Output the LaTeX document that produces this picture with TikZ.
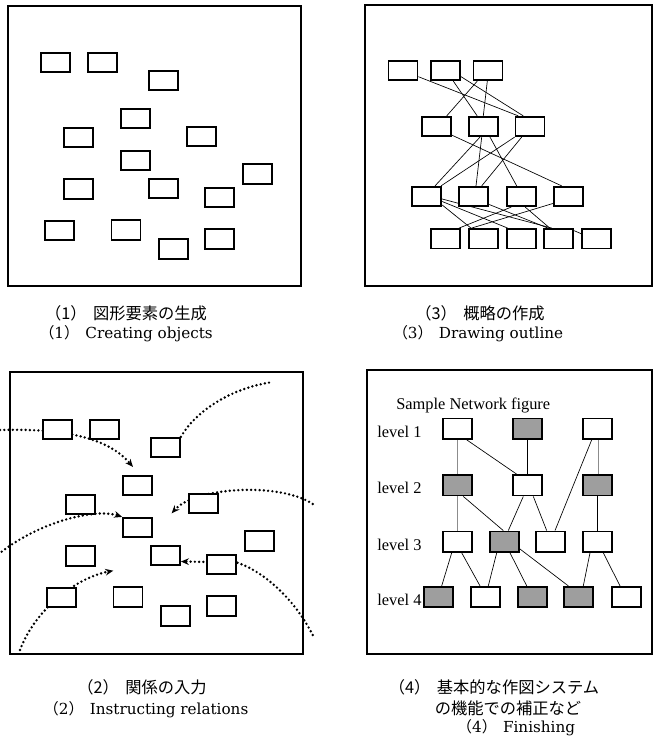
\documentclass[tikz,border=0pt]{standalone}
\usepackage{fontspec}
\newfontfamily\cjk{Noto Sans CJK JP}
\newfontfamily\timesf{Liberation Serif}
\newfontfamily\capserif{DejaVu Serif}
\usetikzlibrary{calc,arrows.meta}
\pgfdeclarelayer{bg}
\pgfdeclarelayer{paper}
\pgfsetlayers{paper,bg,main}

\begin{document}
\begin{tikzpicture}[x=0.75pt,y=-0.75pt,
  frame/.style={draw, line width=1.1pt},
  obj/.style={draw, fill=white, line width=1.3pt, minimum width=21.75pt,
              minimum height=14.6pt, inner sep=0pt},
  netbox/.style={obj, minimum height=15.4pt},
  shaded/.style={netbox, fill=black!38},
  conn/.style={line width=0.5pt},
  faint/.style={line width=0.45pt, draw=black!45},
  rel/.style={line width=2pt, line cap=round, dash pattern=on 0pt off 3.2pt},
  relarrow/.style={rel, -{Stealth[length=6pt,width=5pt]}},
  captext/.style={font=\cjk\fontsize{12.2pt}{14pt}\selectfont, inner sep=0pt},
  captexten/.style={font=\capserif\fontsize{11.4pt}{13pt}\selectfont, inner sep=0pt},
  lab/.style={font=\timesf\fontsize{12.3pt}{14pt}\selectfont, inner sep=0pt, anchor=west}]

\begin{pgfonlayer}{paper}
  \fill[white] (0,0) rectangle (653,738);
\end{pgfonlayer}
\useasboundingbox (0,0) rectangle (653,738);

% ---------- (1) scattered objects ----------
\draw[frame] (8,6) rectangle (301,286);
\foreach \n/\x/\y in {1/55.5/62.5, 2/102.5/62.5, 3/163.5/80.5, 4/135.5/118.5,
    5/78.5/137.5, 6/201.5/136.5, 7/135.5/160.5, 8/257.5/174, 9/78.5/189,
    10/163.5/188.5, 11/219.5/197.5, 12/59.5/230.5, 13/126/230, 14/173.5/249,
    15/219.5/239}
  \node[obj] (p\n) at (\x,\y) {};

% ---------- (2) same objects with relations ----------
\draw[frame] (10,372) rectangle (303,654);
\foreach \n/\x/\y in {1/55.5/62.5, 2/102.5/62.5, 3/163.5/80.5, 4/135.5/118.5,
    5/78.5/137.5, 6/201.5/136.5, 7/135.5/160.5, 8/257.5/174, 9/78.5/189,
    10/163.5/188.5, 11/219.5/197.5, 12/59.5/230.5, 13/126/230, 14/173.5/249,
    15/219.5/239}
  \node[obj] (q\n) at (\x+2,\y+367) {};

\coordinate (ra0) at (0,430);     \coordinate (ra1) at (133,467);
\coordinate (rb1) at (273,382);
\coordinate (rc0) at (312.7,504); \coordinate (rc1) at (171.7,513.3);
\coordinate (rd0) at (1.7,551.7);
\coordinate (re0) at (312.7,635);
\coordinate (rf0) at (20,650);    \coordinate (rf1) at (113.3,570.7);

\begin{pgfonlayer}{bg}
  \draw[relarrow] (ra0) .. controls (70,428) and (110,440) .. (ra1);
  \draw[rel] (q3.north east) .. controls (195,412) and (230,388) .. (rb1);
  \draw[relarrow] (rc0) .. controls (280,482) and (195,487) .. (rc1);
  \draw[relarrow] (rd0) .. controls (40,522) and (95,508) .. (q7.north west);
  \draw[relarrow] (re0) .. controls (295,600) and (265,572) .. ($(q11.east)+(0,-2)$)
        -- ($(q10.east)+(0,6)$);
  \draw[relarrow] (rf0) .. controls (35,610) and (75,578) .. (rf1);
\end{pgfonlayer}

% ---------- (3) outline of the layered network ----------
\draw[frame] (365,5) rectangle (652,286);
\foreach \n/\x/\y in {A1/403/70.5, A2/445.7/70.5, A3/488/70.5,
    B1/436.2/126.5, B2/483.2/126.5, B3/530/126.5,
    C1/426.8/196.5, C2/473.8/196.5, C3/521.2/196.5, C4/568.2/196.5,
    D1/445.5/238.7, D2/483.5/238.7, D3/521.2/238.7, D4/558.8/238.7, D5/596.5/238.7}
  \node[obj] (\n) at (\x,\y) {};

\begin{pgfonlayer}{bg}
  \draw[conn] ($(A1.east)+(0,6.2)$)   -- ($(B3.north)+(-11.7,0)$);
  \draw[conn] ($(A2.south)+(7.6,0)$)  -- ($(B2.north)+(-6,0)$);
  \draw[conn] ($(A2.east)+(0,6.2)$)   -- ($(B3.north)+(-6.7,0)$);
  \draw[conn] ($(A3.south)+(-10.7,0)$) -- ($(B1.north)+(10.5,0)$);
  \draw[conn] ($(A3.south)+(-0.7,0)$) -- ($(B2.north)+(0.1,0)$);
  \draw[conn] ($(B1.east)+(0,8.5)$)   -- ($(C4.north)+(-6.5,0)$);
  \draw[conn] ($(B2.south)+(-3.2,0)$) -- ($(C1.north)+(8.2,0)$);
  \draw[conn] ($(B2.south)+(-1.5,0)$) -- ($(C2.north)+(2.2,0)$);
  \draw[conn] ($(B2.south)+(6.8,0)$)  -- ($(C3.north)+(-4.5,0)$);
  \draw[conn] (B3.south west)         -- ($(C1.north)+(14.2,0)$);
  \draw[conn] ($(B3.south)+(-8.3,0)$) -- ($(C2.north)+(7.9,0)$);
  \draw[conn] ($(C1.east)+(0,8.5)$)   -- ($(D2.north)+(-12.5,0)$);
  \draw[conn] ($(C1.east)+(0,5)$)     -- ($(D3.north)+(-13.5,0)$);
  \draw[conn] ($(C1.east)+(0,2.5)$)   -- ($(D4.north)+(-7,0)$);
  \draw[conn] ($(C2.east)+(0,8)$)     -- ($(D4.north)+(-10.8,0)$);
  \draw[conn] ($(C3.south)+(4,0)$)    -- ($(D4.north)+(-9,0)$);
  \draw[conn] ($(C3.south)+(-10,0)$)  -- ($(D1.north)+(13.5,0)$);
  \draw[conn] ($(C4.west)+(0,7)$)     -- ($(D2.north)+(-12,0)$);
  \draw[conn] ($(D4.east)+(0,-8)$)    -- ($(D5.west)+(0,-5)$);
\end{pgfonlayer}

% ---------- (4) finished network ----------
\draw[frame] (367,370) rectangle (652,654);
\node[lab] (title) at (396,405) {Sample Network figure};
\node[lab] (lv1) at (377,431.7) {level 1};
\node[lab] (lv2) at (377,488.3) {level 2};
\node[lab] (lv3) at (377,545) {level 3};
\node[lab] (lv4) at (377,600) {level 4};

\node[netbox] (N1a) at (457.2,428.7) {};
\node[shaded] (N1b) at (527.5,428.7) {};
\node[netbox] (N1c) at (597.8,428.7) {};
\node[shaded] (N2a) at (457.2,485.3) {};
\node[netbox] (N2b) at (527.5,485.3) {};
\node[shaded] (N2c) at (597.8,485.3) {};
\node[netbox] (N3a) at (457.2,541.7) {};
\node[shaded] (N3b) at (504.2,541.7) {};
\node[netbox] (N3c) at (550.8,541.7) {};
\node[netbox] (N3d) at (597.8,541.7) {};
\node[shaded] (N4a) at (438.3,597) {};
\node[netbox] (N4b) at (485.5,597) {};
\node[shaded] (N4c) at (532.2,597) {};
\node[shaded] (N4d) at (578.8,597) {};
\node[netbox] (N4e) at (626.2,597) {};

\begin{pgfonlayer}{bg}
  \draw[faint] (N1a) -- (N2a);
  \draw[faint] (N2a) -- (N3a);
  \draw[faint] (N1c) -- (N2c);
  \draw[conn] (N2c) -- (N3d);
  \draw[conn] (N1b) -- (N2b);
  \draw[conn] ($(N1a.south)+(9.5,0)$)  -- ($(N2b.north)+(-10.8,0)$);
  \draw[conn] ($(N1c.south)+(-6.1,0)$) -- ($(N3c.north)+(4.2,0)$);
  \draw[conn] ($(N2a.south)+(6.1,0)$)  -- ($(N3b.north)+(-0.9,0)$);
  \draw[conn] ($(N2b.south)+(-4.2,0)$) -- ($(N3b.north)+(4.1,0)$);
  \draw[conn] ($(N2b.south)+(5.8,0)$)  -- ($(N3c.north)+(-4.1,0)$);
  \draw[conn] ($(N3a.south)+(-5.5,0)$) -- ($(N4a.north)+(3.4,0)$);
  \draw[conn] ($(N3a.south)+(4.5,0)$)  -- ($(N4b.north)+(-5.5,0)$);
  \draw[conn] ($(N3b.south)+(-7.5,0)$) -- ($(N4b.north)+(2.8,0)$);
  \draw[conn] ($(N3b.south)+(5.8,0)$)  -- ($(N4c.north)+(-5.5,0)$);
  \draw[conn] ($(N3b.east)+(0,7)$)     -- ($(N4d.north)+(-10.5,0)$);
  \draw[conn] ($(N3d.south)+(-7.8,0)$) -- ($(N4d.north)+(4.5,0)$);
  \draw[conn] ($(N3d.south)+(5.5,0)$)  -- ($(N4e.north)+(-6.2,0)$);
\end{pgfonlayer}

% ---------- captions ----------
\node[captext] (c1j) at (126,313) {（1）\hspace{0.4em}図形要素の生成};
\node[captexten] (c1e) at (126,334) {{\cjk （}1{\cjk ）}\hspace{0.4em}Creating objects};
\node[captext] (c3j) at (480,313) {（3）\hspace{0.4em}概略の作成};
\node[captexten] (c3e) at (478,334) {{\cjk （}3{\cjk ）}\hspace{0.4em}Drawing outline};
\node[captext] (c2j) at (142,687) {（2）\hspace{0.4em}関係の入力};
\node[captexten] (c2e) at (146,710) {{\cjk （}2{\cjk ）}\hspace{0.4em}Instructing relations};
\node[captext] (c4j) at (494,687) {（4）\hspace{0.4em}基本的な作図システム};
\node[captext] (c4k) at (508,708) {の機能での補正など};
\node[captexten] (c4e) at (516,728) {{\cjk （}4{\cjk ）}\hspace{0.4em}Finishing};
\end{tikzpicture}
\end{document}
